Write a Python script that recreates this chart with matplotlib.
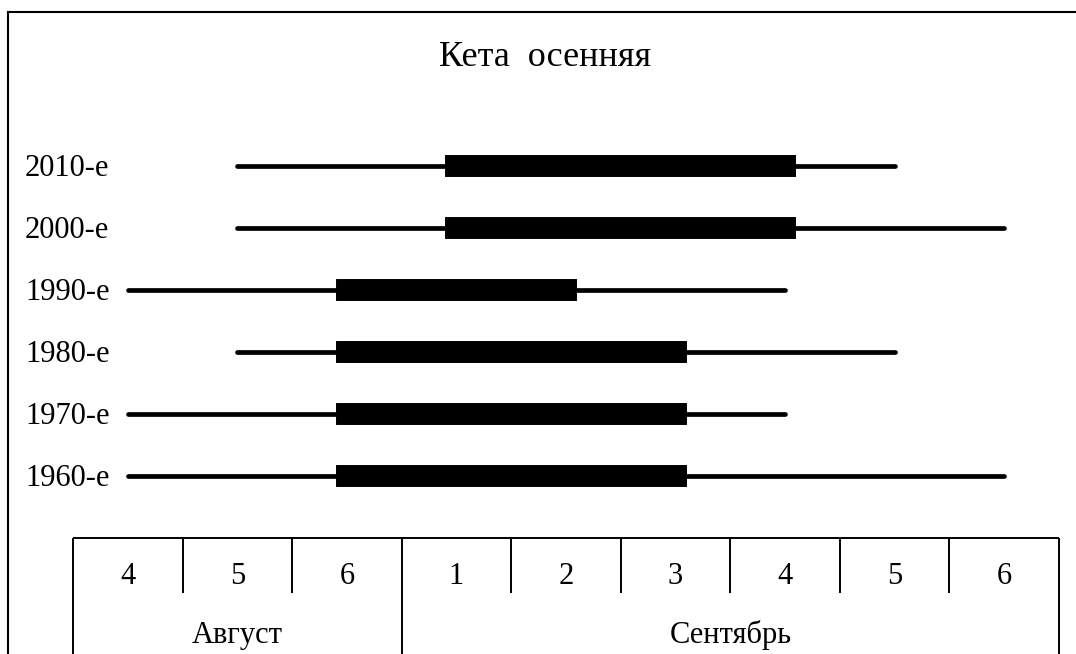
import matplotlib

matplotlib.use("Agg")
import matplotlib.pyplot as plt
from matplotlib.lines import Line2D
from matplotlib.transforms import blended_transform_factory, offset_copy

plt.rcParams["font.family"] = ["Liberation Serif", "DejaVu Serif"]

# Пятидневки: 4-6 августа, 1-6 сентября (индексы 0..8)
pentads = ["4", "5", "6", "1", "2", "3", "4", "5", "6"]
months = ["Август", "Сентябрь"]
month_len = [3, 6]

decades = ["1960-е", "1970-е", "1980-е", "1990-е", "2000-е", "2010-е"]
run_start = [0, 0, 1, 0, 1, 1]
run_end = [8, 6, 7, 6, 8, 7]
peak_start = [2, 2, 2, 2, 3, 3]
peak_end = [5, 5, 5, 4, 6, 6]

W, H = 1076, 654
fig = plt.figure(figsize=(W / 100, H / 100), dpi=100)

# основная область: ход по десятилетиям
x0, x1 = 73, 1059
y_top, y_tab = 100, 538
ax = fig.add_axes([x0 / W, 1 - y_tab / H, (x1 - x0) / W, (y_tab - y_top) / H])
ax.set_xlim(-0.5, len(pentads) - 0.5)
ax.set_ylim(-1, 6.06)
ax.axis("off")

for i, d in enumerate(decades):
    ax.plot([run_start[i], run_end[i]], [i, i], color="black", lw=3.4,
            solid_capstyle="round")
    ax.plot([peak_start[i], peak_end[i]], [i, i], color="black", lw=15.8,
            solid_capstyle="projecting")

lbl = blended_transform_factory(ax.transAxes, ax.transData)
lbl = offset_copy(lbl, fig=fig, y=-2, units="points")
for i, d in enumerate(decades):
    ax.text((25 - x0) / (x1 - x0), i, d, transform=lbl, ha="left",
            va="center", fontsize=22)

# шкала-таблица снизу
tab = fig.add_axes([x0 / W, 0, (x1 - x0) / W, (H - y_tab) / H])
tab.set_xlim(-0.5, len(pentads) - 0.5)
tab.set_ylim(0, 2)
tab.axis("off")
mid = 2 * (H - 593) / (H - y_tab)

tab.plot([-0.5, len(pentads) - 0.5], [2, 2], color="black", lw=1.4,
         clip_on=False, solid_capstyle="butt")
bounds = [-0.5]
for n in month_len:
    bounds.append(bounds[-1] + n)
for k in range(len(pentads) + 1):
    xb = k - 0.5
    ybot = 0 if xb in bounds else mid
    tab.plot([xb, xb], [ybot, 2], color="black", lw=1.4, clip_on=False,
             solid_capstyle="butt")

for k, p in enumerate(pentads):
    tab.text(k, 2 * (H - 577) / (H - y_tab), p, ha="center", va="center",
             fontsize=22)
for m, name in enumerate(months):
    cx = (bounds[m] + bounds[m + 1]) / 2
    tab.text(cx, 2 * (H - 635) / (H - y_tab), name, ha="center",
             va="center", fontsize=22)

fig.text(545 / W, 1 - 57 / H, "Кета  осенняя", ha="center", va="center",
         fontsize=26)

# рамка рисунка
fig.add_artist(Line2D([8 / W, 1], [1 - 12 / H, 1 - 12 / H], color="black",
                      lw=1.5, transform=fig.transFigure))
fig.add_artist(Line2D([8 / W, 8 / W], [0, 1 - 12 / H], color="black",
                      lw=1.5, transform=fig.transFigure))

fig.savefig("out.png", dpi=100, facecolor="white")
